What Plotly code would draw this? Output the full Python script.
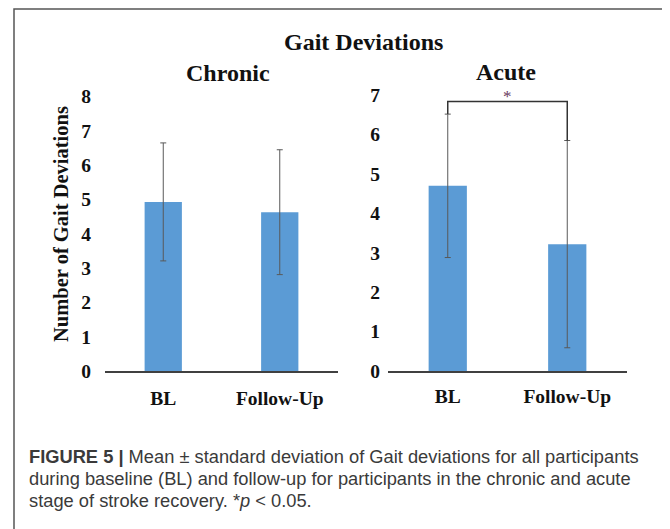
import plotly.graph_objects as go

# ---- data ----
categories = ["BL", "Follow-Up"]
chronic_mean = [4.93, 4.63]
chronic_sd = [1.72, 1.82]
acute_mean = [4.70, 3.22]
acute_sd = [1.82, 2.63]
chronic_ticks = [0, 1, 2, 3, 4, 5, 6, 7, 8]
acute_ticks = [0, 1, 2, 3, 4, 5, 6, 7]
sig_level = 6.84  # height of significance bracket (acute axis units)

OFF = 8  # page body margin
W, H = 670 - OFF, 529 - OFF
SERIF = "Liberation Serif, Times New Roman, serif"
SANS = "Liberation Sans, Arial, Helvetica, sans-serif"
BAR = "#5B9BD5"
ERR = "#595959"

def px(x):
    return (x - OFF) / W

def py(y):
    return 1 - (y - OFF) / H

fig = go.Figure()

fig.add_trace(go.Bar(
    x=categories, y=chronic_mean, width=0.32, marker_color=BAR,
    marker_line_width=0,
    error_y=dict(type="data", array=chronic_sd, visible=True, color=ERR,
                 thickness=1, width=3),
    xaxis="x", yaxis="y", showlegend=False, hoverinfo="skip"))

fig.add_trace(go.Bar(
    x=categories, y=acute_mean, width=0.32, marker_color=BAR,
    marker_line_width=0,
    error_y=dict(type="data", array=acute_sd, visible=True, color=ERR,
                 thickness=1, width=3),
    xaxis="x2", yaxis="y2", showlegend=False, hoverinfo="skip"))

tickfont = dict(family=SERIF, size=19.5, color="#111111", weight="bold")

fig.update_layout(
    width=W, height=H,
    margin=dict(l=0, r=0, t=0, b=0, autoexpand=False),
    paper_bgcolor="white", plot_bgcolor="white",
    xaxis=dict(domain=[px(105), px(338)], anchor="y", range=[-0.5, 1.5],
               showline=True, linecolor="#404040", linewidth=1.5,
               showgrid=False, ticks="", tickfont=tickfont, automargin=False,
               ticklabelstandoff=9, fixedrange=True),
    yaxis=dict(domain=[py(371), py(371 - 8 * 34.3)], anchor="x",
               range=[0, 8], tickvals=chronic_ticks, showgrid=False,
               zeroline=False, showline=False, ticks="", tickfont=tickfont,
               automargin=False, ticklabelstandoff=13, fixedrange=True),
    xaxis2=dict(domain=[px(388), px(627)], anchor="y2", range=[-0.5, 1.5],
                showline=True, linecolor="#404040", linewidth=1.5,
                showgrid=False, ticks="", tickfont=tickfont, automargin=False,
                ticklabelstandoff=7, fixedrange=True),
    yaxis2=dict(domain=[py(371), py(371 - 7 * 39.4)], anchor="x2",
                range=[0, 7], tickvals=acute_ticks, showgrid=False,
                zeroline=False, showline=False, ticks="", tickfont=tickfont,
                automargin=False, ticklabelstandoff=7, fixedrange=True),
)

shapes = []
# outer frame (open at bottom)
shapes.append(dict(type="path", xref="paper", yref="paper",
                   path=f"M {px(14)} {py(540)} L {px(14)} {py(9)} L {px(664)} {py(9)} L {px(664)} {py(540)}",
                   line=dict(color="#555555", width=1.5)))
# significance bracket
top_bl = acute_mean[0] + acute_sd[0]
top_fu = acute_mean[1] + acute_sd[1]
shapes.append(dict(type="path", xref="x2", yref="y2",
                   path=f"M 0 {top_bl} L 0 {sig_level} L 1 {sig_level} L 1 {top_fu}",
                   line=dict(color="#333333", width=1.5)))
fig.update_layout(shapes=shapes)

cap_font = dict(family=SANS, size=18.3, color="#3a3a3a")

def ann(text, x, y, font, xanchor="center", **kw):
    d = dict(text=text, x=px(x), y=py(y), xref="paper", yref="paper",
             xanchor=xanchor, yanchor="middle", showarrow=False, font=font)
    d.update(kw)
    return d

title_font = dict(family=SERIF, size=24, color="#111111")
annotations = [
    ann("<b>Gait Deviations</b>", 363, 42, title_font),
    ann("<b>Chronic</b>", 228, 73, title_font),
    ann("<b>Acute</b>", 506, 72, title_font),
    ann("<b>Number of Gait Deviations</b>", 61, 224,
        dict(family=SERIF, size=20.5, color="#111111"), textangle=-90),
    dict(text="*", x=0.5, y=sig_level, xref="x2", yref="y2", xanchor="center",
         yanchor="bottom", yshift=-7, showarrow=False,
         font=dict(family=SERIF, size=17, color="#6a3a5e")),
    ann("<b>FIGURE 5 |</b> Mean ± standard deviation of Gait deviations for all participants",
        27, 456, cap_font, xanchor="left"),
    ann("during baseline (BL) and follow-up for participants in the chronic and acute",
        27, 478, cap_font, xanchor="left"),
    ann("stage of stroke recovery. *<i>p</i> < 0.05.", 27, 500, cap_font, xanchor="left"),
]
fig.update_layout(annotations=annotations)

fig.write_html("out.html", config={"displayModeBar": False})
